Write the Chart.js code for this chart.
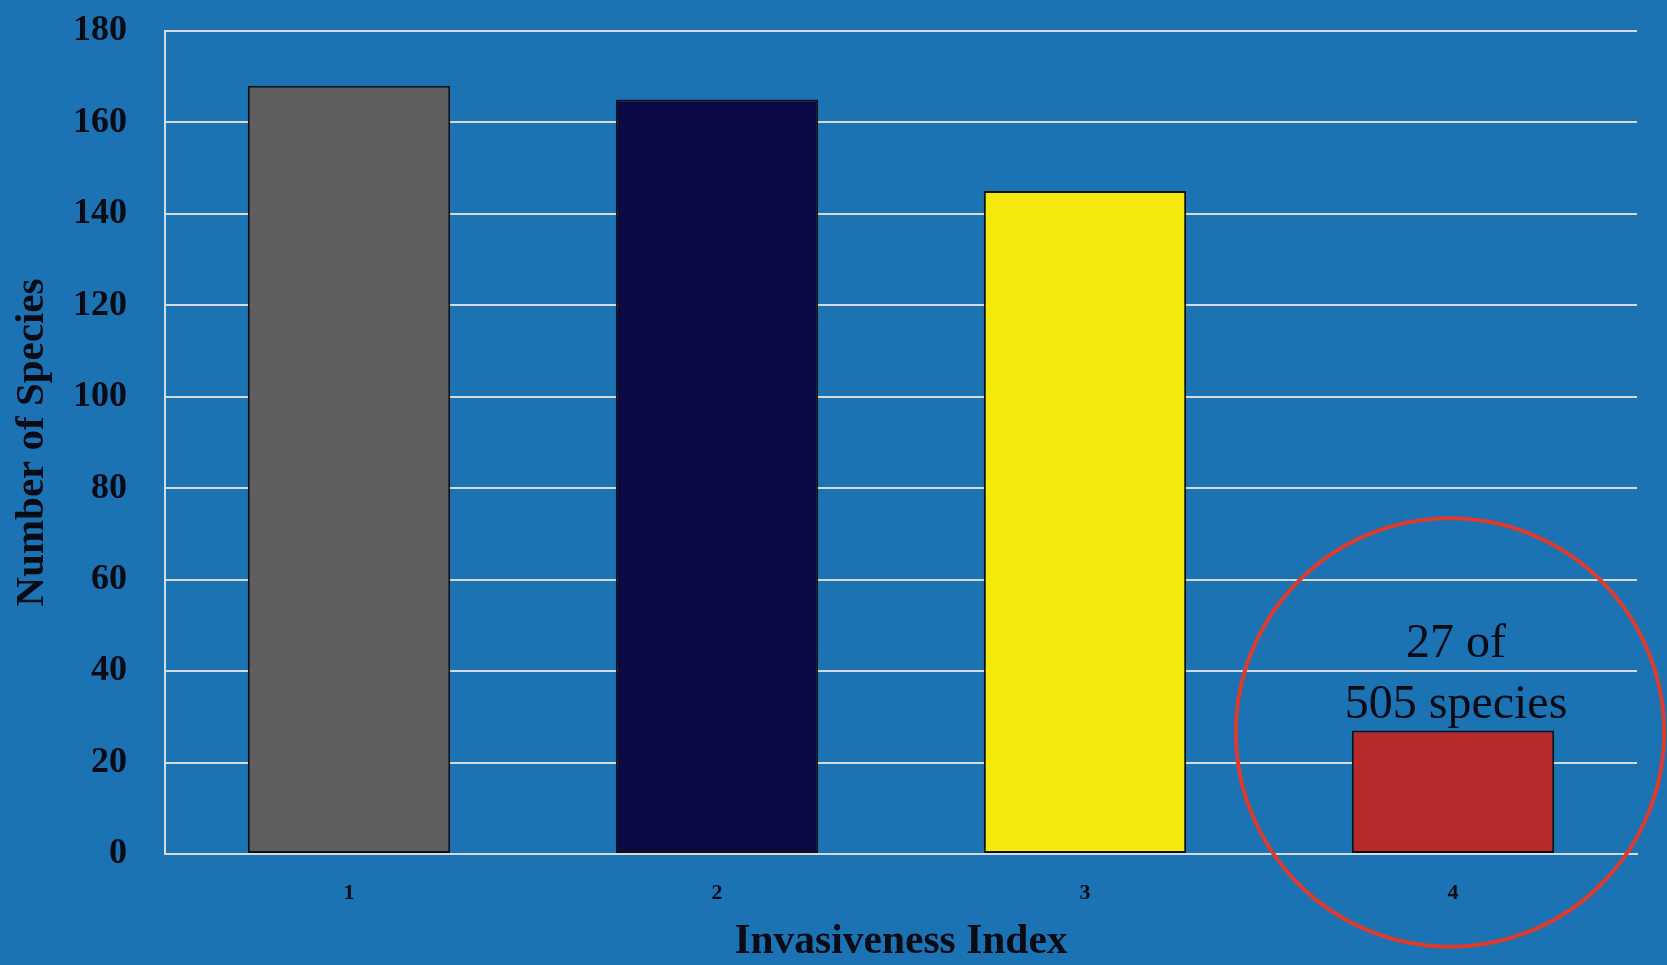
<!DOCTYPE html>
<html><head><meta charset="utf-8">
<script src="https://cdn.jsdelivr.net/npm/chart.js@4"></script>
<style>
html,body{margin:0;padding:0;background:#1b73b4;overflow:hidden}
#wrap{width:1667px;height:965px;position:relative}
</style>
</head><body><div id="wrap"><canvas id="c"></canvas></div>
<script>
// ---- data ----
const categories = ['1', '2', '3', '4'];
const speciesCounts = [168, 165, 145, 27];
const yTickMin = 0;
const yTickMax = 180;
const yTickStep = 20;
const xTitle = 'Invasiveness Index';
const yTitle = 'Number of Species';
const highlightIndex = 3;
const highlightLines = ['27 of', '505 species'];

// ---- styles ----
const barColors = ['#5f5f61', '#0c0a46', '#f4e80c', '#b8292b'];
const bgColor = '#1b73b4';
const gridColor = '#d6dadd';
const textColor = '#0b0b16';
const serif = '"Liberation Serif", "DejaVu Serif", serif';

const backgroundPlugin = {
  id: 'bg',
  beforeDraw(chart) {
    const ctx = chart.ctx;
    ctx.save();
    ctx.fillStyle = bgColor;
    ctx.fillRect(0, 0, chart.width, chart.height);
    ctx.restore();
  }
};

const highlightPlugin = {
  id: 'highlight',
  afterDraw(chart) {
    const ctx = chart.ctx;
    const bar = chart.getDatasetMeta(0).data[highlightIndex];
    const xs = chart.scales.x;
    const catW = xs.width / categories.length;
    ctx.save();
    ctx.fillStyle = textColor;
    ctx.font = '48px ' + serif;
    ctx.textAlign = 'center';
    ctx.textBaseline = 'alphabetic';
    ctx.fillText(highlightLines[0], bar.x + 3, bar.y - 74);
    ctx.fillText(highlightLines[1], bar.x + 3, bar.y - 13);
    ctx.beginPath();
    ctx.strokeStyle = '#dc3b2d';
    ctx.lineWidth = 4;
    ctx.arc(bar.x - 3, bar.y + 2, catW * 0.582, 0, Math.PI * 2);
    ctx.stroke();
    ctx.restore();
  }
};

new Chart(document.getElementById('c'), {
  type: 'bar',
  data: {
    labels: categories,
    datasets: [{
      data: speciesCounts,
      backgroundColor: barColors,
      borderColor: '#111111',
      borderWidth: 2,
      borderSkipped: false,
      categoryPercentage: 1,
      barPercentage: 0.55
    }]
  },
  options: {
    responsive: true,
    maintainAspectRatio: false,
    animation: false,
    layout: { padding: { top: 31, right: 30, left: 0, bottom: 0 } },
    plugins: { legend: { display: false }, tooltip: { enabled: false } },
    scales: {
      x: {
        grid: { display: false, drawTicks: false },
        border: { display: true, color: gridColor, width: 2 },
        ticks: { color: textColor, font: { family: serif, size: 22, weight: 'bold' }, padding: 26 },
        title: { display: true, text: xTitle, color: textColor,
                 font: { family: serif, size: 41.5, weight: 'bold', lineHeight: 1 },
                 padding: { top: 0, bottom: 2 } },
        afterFit(s) { s.height = 111; s.paddingLeft = 0; s.paddingRight = 0; }
      },
      y: {
        min: yTickMin, max: yTickMax,
        grid: { color: gridColor, lineWidth: 2, drawTicks: false },
        border: { display: true, color: gridColor, width: 2 },
        ticks: { stepSize: yTickStep, color: textColor, padding: 38,
                 font: { family: serif, size: 36, weight: 'bold' } },
        title: { display: true, text: yTitle, color: textColor,
                 font: { family: serif, size: 41, weight: 'bold', lineHeight: 1 },
                 padding: { top: 12, bottom: 0 } },
        afterFit(s) { s.width = 165; s.paddingTop = 0; s.paddingBottom = 0; }
      }
    }
  },
  plugins: [backgroundPlugin, highlightPlugin]
});
</script>
</body></html>
